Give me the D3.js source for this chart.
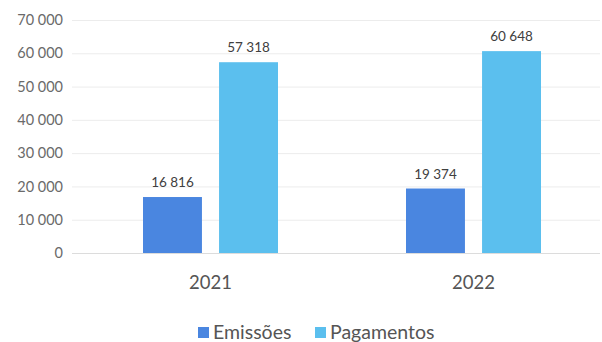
<!DOCTYPE html>
<html>
<head>
<meta charset="utf-8">
<script src="https://cdn.jsdelivr.net/npm/d3@7"></script>
<style>
  html, body { margin: 0; padding: 0; background: #fff; }
  svg { display: block; font-family: Lato, "Open Sans", sans-serif; }
</style>
</head>
<body>
<svg id="chart" width="602" height="342"></svg>
<script>
// Annual totals by year
const years = ["2021", "2022"];
const seriesNames = ["Emissões", "Pagamentos"];
const emissoes = [16816, 19374];
const pagamentos = [57318, 60648];
const yTicks = [0, 10000, 20000, 30000, 40000, 50000, 60000, 70000];
const colors = ["#4a86e0", "#5bbfee"];

const seriesValues = [emissoes, pagamentos];
const rows = years.map((y, i) => ({
  year: y,
  values: seriesNames.map((s, j) => ({ key: s, value: seriesValues[j][i], color: colors[j] }))
}));

const svg = d3.select("#chart");
const plot = { left: 79, right: 605, top: 20, bottom: 253 };

const x0 = d3.scaleBand().domain(years).range([plot.left, plot.right]).paddingInner(0).paddingOuter(0);
const x1 = d3.scaleBand().domain(seriesNames).range([64, x0.bandwidth() - 64]).paddingInner(0.225);
const y = d3.scaleLinear().domain([0, 70000]).range([plot.bottom, plot.top]);

const fmt = v => d3.format(",")(v).replace(/,/g, " ");

// Horizontal gridlines
svg.append("g")
  .selectAll("line")
  .data(yTicks)
  .join("line")
  .attr("x1", 72).attr("x2", 600)
  .attr("y1", d => y(d) + 0.5).attr("y2", d => y(d) + 0.5)
  .attr("stroke", d => d === 0 ? "#dcdcdc" : "#ececec")
  .attr("stroke-width", 1);

// Y axis labels
const yAxis = d3.axisLeft(y).tickValues(yTicks).tickFormat(fmt).tickSize(0).tickPadding(0);
svg.append("g")
  .attr("transform", `translate(63,0)`)
  .call(yAxis)
  .call(g => g.select(".domain").remove())
  .call(g => g.selectAll("text")
    .attr("font-size", 14.5)
    .attr("fill", "#6a6a6a")
    .attr("font-family", "Lato, 'Open Sans', sans-serif"));

// Bars
const groups = svg.append("g")
  .selectAll("g")
  .data(rows)
  .join("g")
  .attr("transform", d => `translate(${x0(d.year)},0)`);

groups.selectAll("rect")
  .data(d => d.values)
  .join("rect")
  .attr("x", d => x1(d.key))
  .attr("width", x1.bandwidth())
  .attr("y", d => y(d.value))
  .attr("height", d => y(0) - y(d.value))
  .attr("fill", d => d.color);

// Value labels
groups.selectAll("text.val")
  .data(d => d.values)
  .join("text")
  .attr("class", "val")
  .attr("x", d => x1(d.key) + x1.bandwidth() / 2)
  .attr("y", d => y(d.value) - 10)
  .attr("text-anchor", "middle")
  .attr("font-size", 13.5)
  .attr("fill", "#404040")
  .text(d => fmt(d.value));

// X axis category labels
const xAxis = d3.axisBottom(x0).tickSize(0).tickPadding(0);
svg.append("g")
  .attr("transform", `translate(0,276)`)
  .call(xAxis)
  .call(g => g.select(".domain").remove())
  .call(g => g.selectAll("text")
    .attr("font-size", 18.5)
    .attr("fill", "#555")
    .attr("font-family", "Lato, 'Open Sans', sans-serif"));

// Legend
const legendX = [198, 315];
const legend = svg.append("g")
  .selectAll("g")
  .data(seriesNames)
  .join("g")
  .attr("transform", (d, i) => `translate(${legendX[i]},327)`);
legend.append("rect")
  .attr("width", 11).attr("height", 11)
  .attr("fill", (d, i) => colors[i]);
legend.append("text")
  .attr("x", 15).attr("y", 12)
  .attr("font-size", 19.5)
  .attr("fill", "#555")
  .text(d => d);
</script>
</body>
</html>
